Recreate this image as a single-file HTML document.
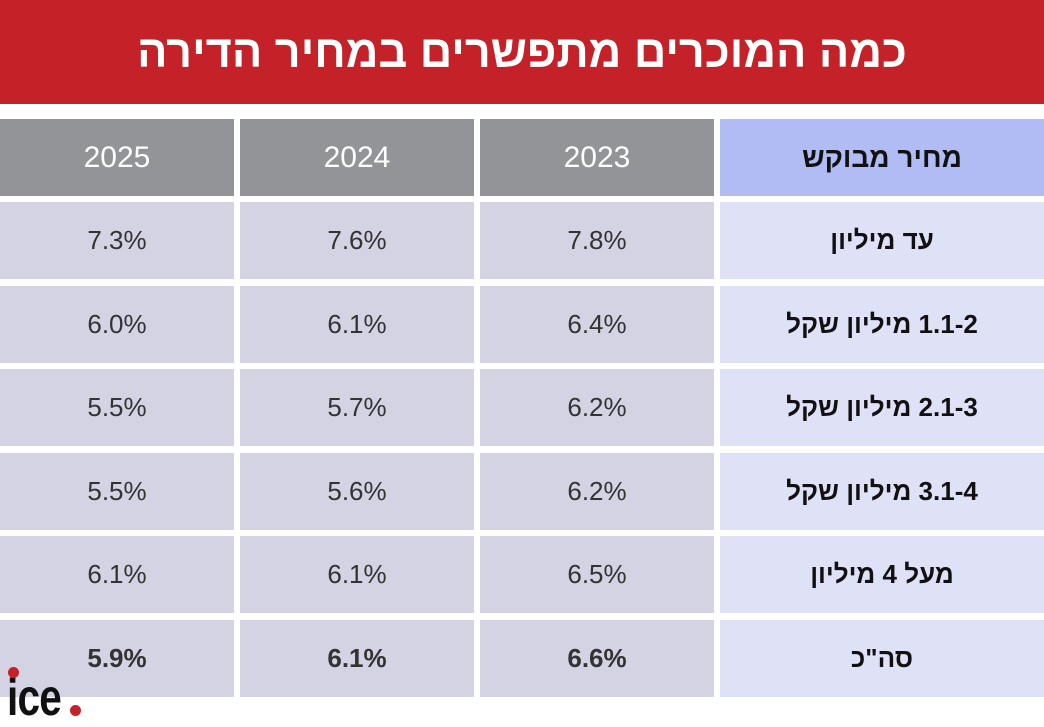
<!DOCTYPE html>
<html><head><meta charset="utf-8"><style>
body{margin:0;width:1044px;height:722px;background:#fff;position:relative;overflow:hidden;font-family:"Liberation Sans","DejaVu Sans",sans-serif}
.banner{position:absolute;left:0;top:0;width:1044px;height:104px;background:#c42128;color:#fff;font-weight:bold;font-size:45px;text-align:center;line-height:104px;direction:rtl}
.c{position:absolute;height:77px;line-height:77px;text-align:center;font-size:26px;color:#333}
.h{background:#939498;color:#fff;font-size:30px}
.hl{background:#b1bcf4;color:#111;font-weight:bold;font-size:28px;direction:rtl}
.d{background:#d4d3e3}
.l{background:#dfe1f7;color:#111;font-weight:bold;direction:rtl}
.b{font-weight:bold}
</style></head><body>
<div class="banner">כמה המוכרים מתפשרים במחיר הדירה</div>
<div id="t"></div>
<div style="position:absolute;left:7px;top:672px;font:bold 52px 'Liberation Sans',sans-serif;color:#111;letter-spacing:-1px;line-height:52px;transform:scaleX(0.78);transform-origin:left top">ice</div>
<div style="position:absolute;left:70px;top:705px;width:11px;height:11px;border-radius:50%;background:#c42128"></div>
<div style="position:absolute;left:8px;top:667px;width:11px;height:11px;border-radius:50%;background:#c42128"></div>
<script>
var xs=[[0,234],[240,234],[480,234],[720,324]];
var ys=[119,202,286,369,453,536,620];
var rows=[["2025","2024","2023","מחיר מבוקש"],["7.3%","7.6%","7.8%","עד מיליון"],["6.0%","6.1%","6.4%","1.1-2 מיליון שקל"],["5.5%","5.7%","6.2%","2.1-3 מיליון שקל"],["5.5%","5.6%","6.2%","3.1-4 מיליון שקל"],["6.1%","6.1%","6.5%","מעל 4 מיליון"],["5.9%","6.1%","6.6%","סה\"כ"]];
var h="";
rows.forEach(function(r,i){r.forEach(function(v,j){
var cls=i==0?(j==3?"hl":"h"):(j==3?"l":"d"+(i==6?" b":""));
h+='<div class="c '+cls+'" style="left:'+xs[j][0]+'px;width:'+xs[j][1]+'px;top:'+ys[i]+'px"><bdi>'+v+'</bdi></div>';});});
document.getElementById("t").innerHTML=h;
</script>
</body></html>
